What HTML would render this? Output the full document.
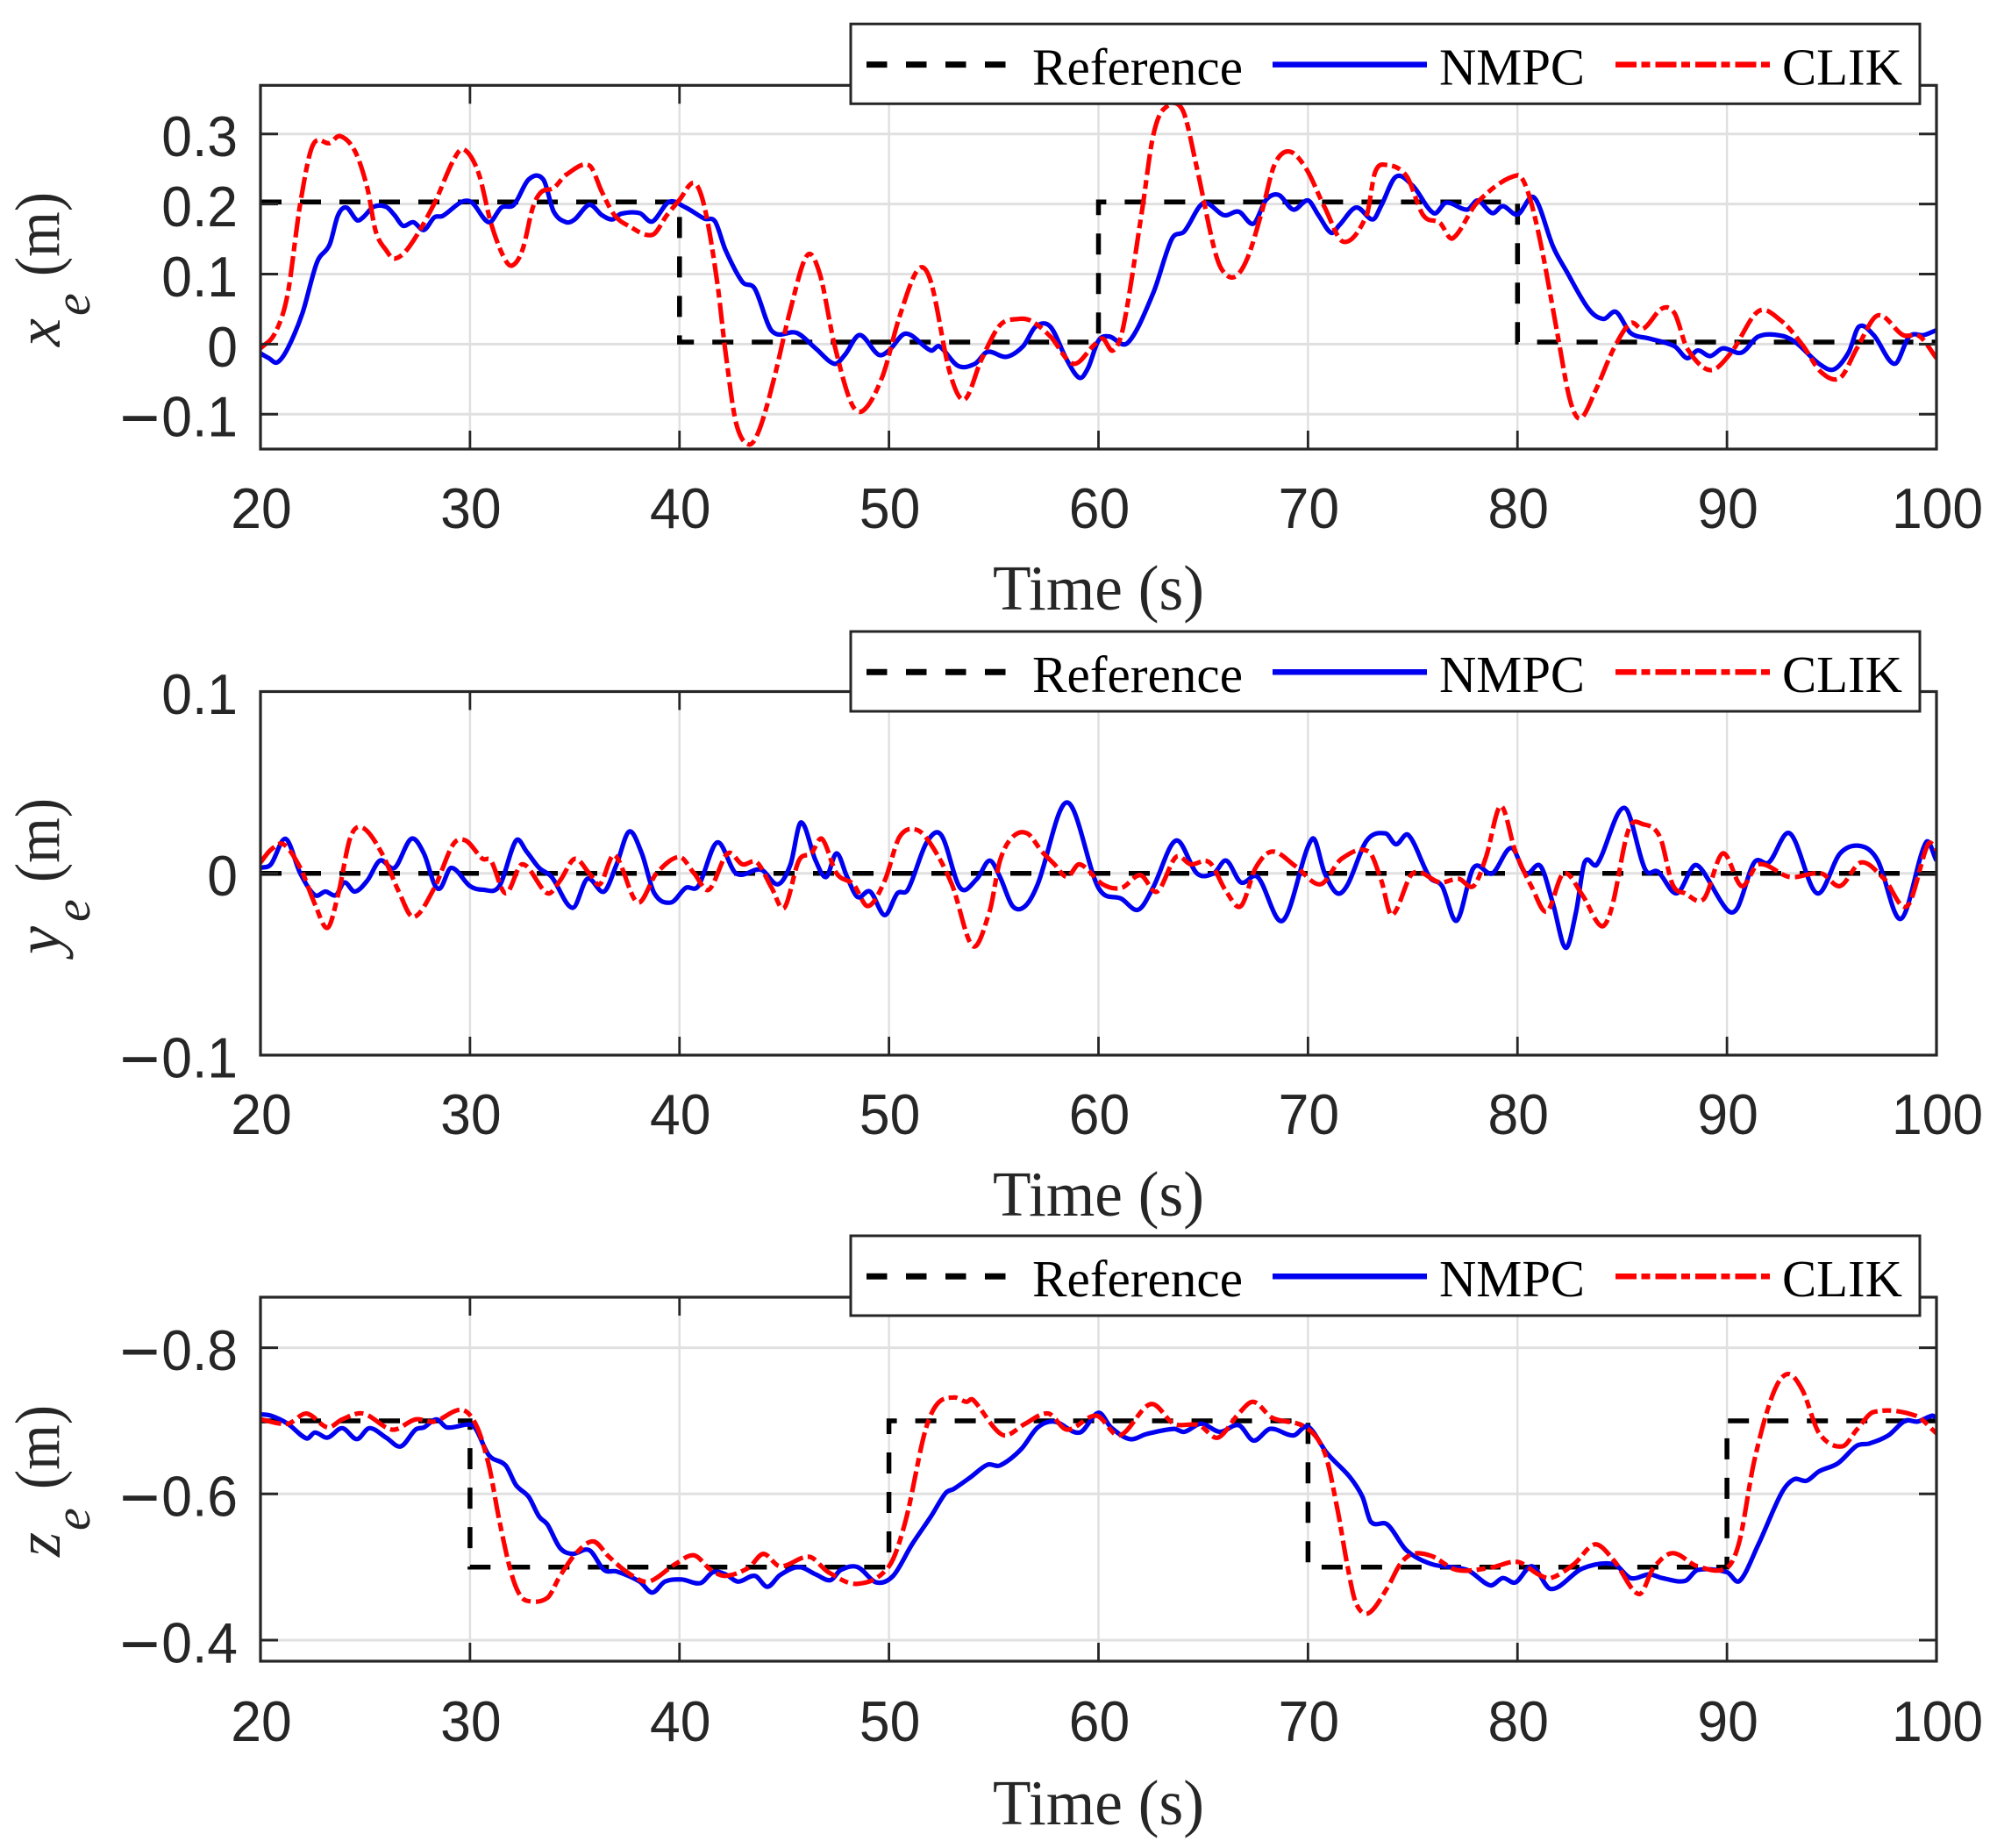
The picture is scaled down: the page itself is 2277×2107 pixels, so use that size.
<!DOCTYPE html>
<html>
<head>
<meta charset="utf-8">
<style>
html,body{margin:0;padding:0;background:#fff;}
svg{display:block;}
.tick{font-family:"Liberation Sans",sans-serif;font-size:65px;fill:#262626;}
.serif{font-family:"Liberation Serif",serif;fill:#262626;}
.leg{font-family:"Liberation Serif",serif;font-size:59px;fill:#000;}
</style>
</head>
<body>
<svg id="chart" xmlns="http://www.w3.org/2000/svg" width="2277" height="2107" viewBox="0 0 2277 2107">
<rect x="0" y="0" width="2277" height="2107" fill="#fff"/>
<g id="panel-x"></g>
<g id="panel-y"></g>
<g id="panel-z"></g>

<g>
<text class="serif" transform="translate(68,395) rotate(-90)" font-size="72" font-style="italic">x</text>
<text class="serif" transform="translate(102,360) rotate(-90)" font-size="58" font-style="italic">e</text>
<text class="serif" transform="translate(67,315) rotate(-90)" font-size="72" textLength="96" lengthAdjust="spacingAndGlyphs">(m)</text>
</g>
<g>
<text class="serif" transform="translate(68,1088) rotate(-90)" font-size="72" font-style="italic">y</text>
<text class="serif" transform="translate(102,1051) rotate(-90)" font-size="58" font-style="italic">e</text>
<text class="serif" transform="translate(67,1006) rotate(-90)" font-size="72" textLength="96" lengthAdjust="spacingAndGlyphs">(m)</text>
</g>
<g>
<text class="serif" transform="translate(68,1775) rotate(-90)" font-size="72" font-style="italic">z</text>
<text class="serif" transform="translate(102,1745) rotate(-90)" font-size="58" font-style="italic">e</text>
<text class="serif" transform="translate(67,1698) rotate(-90)" font-size="72" textLength="96" lengthAdjust="spacingAndGlyphs">(m)</text>
</g>
</svg>
<script>
// ---- shared axis data ----
var xTickValues = [20,30,40,50,60,70,80,90,100];

// ---- x_e panel ----
var xeTickValues = [-0.1,0,0.1,0.2,0.3];
var xeTickLabels = ['\u22120.1','0','0.1','0.2','0.3'];
var xeRefTime = [20,40,40,60,60,80,80,100];
var xeRef = [0.203,0.203,0.003,0.003,0.203,0.203,0.003,0.003];
var xeNmpcTime = [20,20.4,20.8,21.3,22,22.7,23.3,23.7,24.1,24.6,24.9,25.4,26,26.4,26.8,27.3,27.8,28.3,28.7,29.6,30.1,30.9,31.5,32.1,32.8,33.5,34,34.6,35,35.7,36.3,36.8,37.2,38.1,38.7,39.5,40.3,41.2,41.7,42.2,43,43.6,44.4,45.6,46.5,47.4,47.9,48.6,49.5,50,50.8,52,52.4,53.3,54.1,54.7,55.6,56.4,57,57.7,58.5,59.1,59.5,60,60.5,61.4,62.6,63.5,64.1,65,66,66.7,67.4,68,68.6,69.3,70,70.5,71.1,71.5,72.3,73.1,73.5,74.2,75,76,76.6,77.6,78.1,78.8,79.3,80,80.8,81.7,82.3,83.4,84.1,84.7,85.4,86.3,87.5,88.1,88.6,89.2,89.8,90.7,91.5,92.6,93.3,94.4,95.1,95.8,96.3,97,98,98.7,99.4,100];
var xeNmpc = [-.013,-.020,-.026,-.006,.044,.117,.142,.184,.195,.177,.181,.196,.196,.184,.169,.174,.163,.181,.183,.203,.202,.174,.195,.199,.235,.235,.189,.174,.178,.199,.184,.178,.186,.187,.175,.203,.195,.179,.175,.134,.089,.079,.019,.016,-.006,-.028,-.015,.013,-.015,-.009,.015,-.009,-.003,-.031,-.028,-.011,-.018,-.003,.025,.025,-.023,-.048,-.034,.005,.011,.002,.072,.150,.161,.201,.184,.189,.172,.206,.213,.192,.205,.184,.159,.170,.195,.178,.198,.239,.226,.187,.202,.192,.205,.187,.197,.185,.209,.139,.106,.050,.036,.046,.016,.008,-.003,-.020,-.009,-.017,-.006,-.012,.011,.012,.002,-.028,-.036,-.012,.025,.013,-.028,.011,.013,.020];
var xeClikTime = [20,20.7,21.3,21.9,22.5,23.3,23.8,24.5,25.1,25.5,26,26.4,27.1,28.3,29.2,29.7,30.4,31,31.6,32,32.5,33,33.4,34,34.6,35.7,36.3,36.9,37.5,38.7,39.4,40,40.7,41.2,41.8,42.2,42.7,43.3,43.8,44.5,45.3,46.1,46.7,47.4,48.2,48.8,49.7,50.5,51.4,52,52.9,53.6,54.4,55.3,56.2,56.8,57.7,58.8,59.8,60.2,60.7,61.2,62.1,62.6,63.1,64,64.7,65.5,65.9,66.5,67.1,67.8,68.4,69.1,69.9,70.8,71.7,72.8,73.2,73.7,74.7,75.5,76.3,76.9,78.1,80,80.5,81.1,81.9,82.5,83,83.7,84.6,85.4,86,86.9,87.5,88.1,89.2,90.2,91.5,92.6,93.6,94.5,95.4,96.2,97.2,98.4,99.2,100];
var xeClik = [-.006,.016,.072,.201,.284,.287,.297,.276,.223,.161,.134,.122,.139,.201,.262,.278,.245,.173,.125,.112,.134,.195,.217,.223,.242,.255,.217,.184,.170,.156,.184,.206,.230,.195,.089,-.012,-.112,-.143,-.123,-.051,.050,.127,.100,-.001,-.084,-.094,-.045,.039,.107,.089,-.040,-.079,-.023,.027,.036,.033,.011,-.028,-.001,.008,-.009,.027,.195,.296,.335,.335,.251,.139,.106,.096,.122,.189,.256,.275,.251,.195,.146,.184,.245,.256,.240,.184,.173,.151,.203,.241,.217,.145,.016,-.079,-.106,-.068,-.006,.030,.022,.051,.044,-.006,-.037,-.012,.047,.033,-.001,-.040,-.048,-.006,.041,.013,.011,-.020];

// ---- y_e panel ----
var yeTickValues = [-0.1,0,0.1];
var yeTickLabels = ['\u22120.1','0','0.1'];
var yeRefTime = [20,100];
var yeRef = [0,0];
var yeNmpcTime = [20,20.5,21.2,21.9,22.6,23.1,23.6,24,24.5,25.1,25.7,26.4,27.2,27.8,28.3,28.6,29.1,30,30.6,31.4,32.2,32.7,33.3,33.9,34.9,35.6,36.4,37,37.6,38.2,38.8,39.6,40.3,40.9,41.8,42.7,43.9,44.7,45.3,45.8,46.5,47,47.5,48,48.5,49.1,49.8,50.4,50.9,51.8,52.5,53.4,54.2,54.8,55.3,55.9,56.5,57.1,58.5,60,61.1,61.9,62.6,63.7,64.7,65.5,66.1,66.8,67.6,68.8,70.2,70.8,71.4,71.9,72.8,73.7,74.2,74.8,75.8,76.4,77.1,77.9,78.8,79.7,80.4,81.1,81.7,82.3,82.8,83.2,83.8,85.1,86.1,86.7,87.6,88.4,88.8,90,90.5,91.3,92,93,94.3,95.4,96.4,97.2,98.3,99.5,100];
var yeNmpc = [.003,.005,.019,.000,-.012,-.010,-.012,-.005,-.010,-.004,.007,.003,.019,.011,-.006,-.008,.003,-.007,-.009,-.007,.018,.012,.003,-.002,-.019,-.003,-.010,.005,.023,.011,-.011,-.016,-.008,-.007,.017,.000,.002,-.006,.005,.028,.007,-.002,.011,-.002,-.013,-.010,-.023,-.011,-.009,.017,.021,-.008,-.003,.007,-.002,-.018,-.018,-.006,.039,-.008,-.014,-.020,-.008,.018,.000,.000,.007,-.005,-.002,-.026,.019,.000,-.011,-.006,.018,.022,.016,.021,-.002,-.007,-.026,.003,.000,.014,.000,.004,-.017,-.041,-.021,.006,.005,.036,.002,.001,-.011,.004,.002,-.020,-.019,.006,.006,.022,-.011,.011,.015,.007,-.025,.017,.007];
var yeClikTime = [20,20.5,21.1,21.9,22.6,23.2,23.7,24.3,24.9,25.8,26.6,27.3,28.3,29.2,29.8,30.6,31,31.7,32.5,33.7,34.3,35,35.7,36.2,36.9,38,38.9,40,40.7,41.4,42.3,43,43.7,44.4,45,45.7,46.3,46.8,47.5,48.3,49,49.8,50.5,51.3,52,53,54,54.8,55.3,55.9,56.6,57.3,57.9,58.5,59.1,60.2,61.1,62,62.8,63.7,64.4,65.3,66.1,66.8,67.5,68.3,69.4,70.6,71.6,72.9,73.5,74,75,76.3,77.2,77.9,78.5,79.2,79.9,80.7,81.4,82.2,83.1,84,84.5,85.3,86,86.8,87.4,88,88.9,89.8,90.7,91.5,93,94.5,95.4,96.4,97.5,98.6,99.6,100];
var yeClik = [.006,.013,.016,.003,-.017,-.030,-.012,.020,.025,.011,-.010,-.024,-.008,.016,.018,.008,.007,-.011,.005,-.011,-.004,.008,.000,-.006,.010,-.016,.000,.009,.000,-.009,.011,.005,.006,-.008,-.019,.007,.011,.019,.000,-.006,-.018,-.004,.020,.024,.016,-.006,-.040,-.021,.007,.020,.022,.012,.005,-.002,.005,-.006,-.008,-.001,-.010,.009,.005,.006,-.010,-.018,.003,.012,.004,-.006,.008,.012,-.004,-.023,.000,-.005,-.003,-.007,.009,.037,.012,-.008,-.021,.000,-.012,-.029,-.019,.024,.027,.020,-.006,-.011,-.014,.011,-.007,.005,-.002,.000,-.007,.006,-.003,-.018,.016,.013];

// ---- z_e panel ----
var zeTickValues = [-0.8,-0.6,-0.4];
var zeTickLabels = ['\u22120.8','\u22120.6','\u22120.4'];
var zeRefTime = [20,30,30,50,50,70,70,90,90,100];
var zeRef = [-0.7,-0.7,-0.5,-0.5,-0.7,-0.7,-0.5,-0.5,-0.7,-0.7];
var zeNmpcTime = [20,20.5,21.3,22.2,22.6,23.2,23.9,24.6,25.2,26,26.7,27.4,27.8,28.4,28.9,30,30.3,30.9,31.7,32.2,32.8,33.3,33.7,34.3,34.9,35.7,36.4,37,38.1,38.7,39.3,40.1,41,41.6,42.2,42.8,43.6,44.2,44.8,45.7,46.5,47.2,47.7,48.5,49.4,50.2,51.1,52,52.7,53.1,53.9,54.7,55.3,56.3,57.1,57.9,59.1,60,60.6,61.5,62.3,63.6,64.1,64.9,65.8,66.7,67.4,68.2,69.3,70,70.9,72,72.6,73,73.8,74.7,75.9,77.6,78.7,79.3,79.9,80.7,81.6,83.1,84.6,85.4,86.3,86.9,88,88.6,90,90.6,91.5,92.6,93.2,93.8,94.4,95.3,96.2,96.8,97.7,98.5,99.1,99.8,100];
var zeNmpc = [-.709,-.707,-.696,-.676,-.684,-.677,-.690,-.675,-.690,-.677,-.665,-.688,-.691,-.702,-.691,-.695,-.688,-.653,-.639,-.612,-.596,-.569,-.558,-.526,-.518,-.523,-.496,-.494,-.480,-.465,-.480,-.483,-.478,-.493,-.490,-.480,-.488,-.473,-.489,-.500,-.490,-.482,-.496,-.500,-.479,-.488,-.531,-.569,-.601,-.607,-.623,-.640,-.639,-.661,-.691,-.699,-.684,-.711,-.691,-.675,-.682,-.689,-.685,-.696,-.685,-.694,-.673,-.689,-.680,-.692,-.656,-.623,-.596,-.562,-.558,-.523,-.504,-.496,-.475,-.485,-.479,-.501,-.470,-.498,-.504,-.485,-.490,-.485,-.481,-.496,-.493,-.481,-.531,-.601,-.620,-.618,-.631,-.642,-.666,-.669,-.680,-.700,-.699,-.707,-.704];
var zeClikTime = [20,21.3,22.2,23.2,23.9,24.9,26.3,27.4,28.3,29.6,30.3,30.9,31.4,31.9,32.3,32.7,33.7,34.3,35.1,35.9,36.6,37.5,38.5,39.8,40.7,41.5,42.2,43.3,44,44.8,46.2,47.1,48.5,50,50.8,51.7,52.3,53.1,53.7,54,55.1,55.6,56.5,57.6,58.5,59.9,61,62.5,63.6,64.8,65.7,66.7,67.4,68.3,69.9,70.8,71.4,71.9,72.3,72.9,73.8,74.4,75,75.9,77.1,78.7,80,81,81.6,82.7,83.7,84.6,85.8,86.5,87.4,88.6,90,90.6,91.3,92.2,92.9,93.6,94.4,95.5,96.2,97,99,100];
var zeClik = [-.702,-.696,-.710,-.691,-.702,-.710,-.688,-.702,-.699,-.715,-.694,-.639,-.564,-.499,-.466,-.454,-.458,-.488,-.520,-.535,-.515,-.493,-.480,-.504,-.516,-.496,-.488,-.499,-.518,-.501,-.514,-.493,-.477,-.501,-.564,-.683,-.723,-.732,-.726,-.729,-.688,-.680,-.696,-.710,-.688,-.707,-.680,-.723,-.696,-.694,-.677,-.710,-.726,-.704,-.691,-.656,-.580,-.499,-.450,-.437,-.472,-.504,-.518,-.515,-.496,-.499,-.507,-.490,-.485,-.504,-.531,-.509,-.463,-.499,-.519,-.501,-.499,-.536,-.645,-.737,-.764,-.742,-.683,-.665,-.688,-.712,-.707,-.683];

var legendLabels = ['Reference','NMPC','CLIK'];
var xLabelText = 'Time (s)';

// ---- layout ----
var SVGNS = 'http://www.w3.org/2000/svg';
var L = 297, R = 2208;
var TICK_SQUEEZE = 0.96;
function tx(t){ return L + (t - 20) * (R - L) / 80; }
function node(parent, tag, attrs, text){
  var el = document.createElementNS(SVGNS, tag);
  for (var k in attrs) el.setAttribute(k, attrs[k]);
  if (text !== undefined) el.textContent = text;
  parent.appendChild(el);
  return el;
}
function smoothPath(ts, vs, X, Y){
  var n = Math.min(ts.length, vs.length), d = 'M' + X(ts[0]).toFixed(1) + ' ' + Y(vs[0]).toFixed(1);
  for (var i = 0; i < n - 1; i++){
    var p0 = i > 0 ? i - 1 : i, p3 = i + 2 < n ? i + 2 : i + 1;
    var h = ts[i+1] - ts[i];
    var m1 = (vs[i+1] - vs[p0]) / (ts[i+1] - ts[p0]);
    var m2 = (vs[p3] - vs[i]) / (ts[p3] - ts[i]);
    var c1t = ts[i] + h / 3, c1v = vs[i] + m1 * h / 3;
    var c2t = ts[i+1] - h / 3, c2v = vs[i+1] - m2 * h / 3;
    d += 'C' + X(c1t).toFixed(1) + ' ' + Y(c1v).toFixed(1) + ' ' + X(c2t).toFixed(1) + ' ' + Y(c2v).toFixed(1) + ' ' + X(ts[i+1]).toFixed(1) + ' ' + Y(vs[i+1]).toFixed(1);
  }
  return d;
}
function stepPath(ts, vs, X, Y){
  var d = '';
  for (var i = 0; i < ts.length; i++) d += (i ? 'L' : 'M') + X(ts[i]).toFixed(1) + ' ' + Y(vs[i]).toFixed(1);
  return d;
}

function drawPanel(g, id, o){
  var Y = function(v){ return o.y0 + (v - o.v0) * (o.y1 - o.y0) / (o.v1 - o.v0); };
  var clipId = 'clip-' + id;
  var defs = node(g, 'defs', {});
  var cp = node(defs, 'clipPath', {id: clipId});
  node(cp, 'rect', {x: L, y: o.top, width: R - L, height: o.bottom - o.top});

  // grid
  xTickValues.forEach(function(t){
    if (t === 20 || t === 100) return;
    var el = node(g, 'line', {x1: tx(t), x2: tx(t), y1: o.top, y2: o.bottom, stroke: '#e0e0e0', 'stroke-width': 2.5});
    
    
  });
  o.ticks.forEach(function(v){
    if (Y(v) <= o.top + 2 || Y(v) >= o.bottom - 2) return;
    var el = node(g, 'line', {x1: L, x2: R, y1: Y(v), y2: Y(v), stroke: '#e0e0e0', 'stroke-width': 3});
    
    
  });

  // series
  var ref = node(g, 'path', {d: stepPath(o.refT, o.ref, tx, Y), fill: 'none', stroke: '#000', 'stroke-width': 5.5, 'stroke-dasharray': '24 21', 'clip-path': 'url(#' + clipId + ')'});
  
  
  var nm = node(g, 'path', {d: smoothPath(o.nT, o.n, tx, Y), fill: 'none', stroke: '#0000f0', 'stroke-width': 5.2, 'stroke-linejoin': 'round', 'clip-path': 'url(#' + clipId + ')'});
  
  
  var cl = node(g, 'path', {d: smoothPath(o.cT, o.c, tx, Y), fill: 'none', stroke: '#ff0000', 'stroke-width': 5.2, 'stroke-dasharray': '24 5.5 10 6', 'clip-path': 'url(#' + clipId + ')'});
  
  

  // frame
  var frame = node(g, 'rect', {x: L, y: o.top, width: R - L, height: o.bottom - o.top, fill: 'none', stroke: '#262626', 'stroke-width': 3.2});
  
  

  // ticks + labels
  xTickValues.forEach(function(t){
    if (t !== 20 && t !== 100){
      var a = node(g, 'line', {x1: tx(t), x2: tx(t), y1: o.bottom, y2: o.bottom - 21, stroke: '#262626', 'stroke-width': 2.8});
      
      
      var b = node(g, 'line', {x1: tx(t), x2: tx(t), y1: o.top, y2: o.top + 21, stroke: '#262626', 'stroke-width': 2.8});
      
      
    }
    var lab = node(g, 'text', {class: 'tick', transform: 'translate(' + (tx(t) + 1) + ',' + o.xLabY + ') scale(' + TICK_SQUEEZE + ',1)', 'text-anchor': 'middle'}, String(t));
    
    
  });
  o.ticks.forEach(function(v, i){
    if (Y(v) > o.top + 2 && Y(v) < o.bottom - 2){
      var a = node(g, 'line', {x1: L, x2: L + 20, y1: Y(v), y2: Y(v), stroke: '#262626', 'stroke-width': 3});
      
      
      var b = node(g, 'line', {x1: R, x2: R - 20, y1: Y(v), y2: Y(v), stroke: '#262626', 'stroke-width': 3});
      
      
    }
    var lab = node(g, 'text', {class: 'tick', transform: 'translate(271,' + (Y(v) + 25.4) + ') scale(' + TICK_SQUEEZE + ',1)', 'text-anchor': 'end'});
    
    
    var txt = o.labels[i];
    if (txt.charAt(0) === '\u2212'){
      node(lab, 'tspan', {'font-size': 82, dy: 7}, txt.charAt(0));
      node(lab, 'tspan', {dx: 2, dy: -7}, txt.slice(1));
    } else {
      lab.textContent = txt;
    }
  });

  // x title
  var xt = node(g, 'text', {class: 'serif', x: 1132, y: o.xTitleY, 'font-size': 73, textLength: 241, lengthAdjust: 'spacingAndGlyphs'}, xLabelText);
  
  

  // legend
  var lg = node(g, 'g', {});
  
  
  var box = node(lg, 'rect', {x: 970, y: o.legTop, width: 1219, height: 91, fill: '#fff', stroke: '#262626', 'stroke-width': 3});
  
  
  var ly = o.legTop + 46.3, by = o.legTop + 69;
  var s1 = node(lg, 'line', {x1: 988, x2: 1147, y1: ly, y2: ly, stroke: '#000', 'stroke-width': 7, 'stroke-dasharray': '23.5 21.5'});
  
  
  var t1 = node(lg, 'text', {class: 'leg', x: 1177, y: by, textLength: 240, lengthAdjust: 'spacingAndGlyphs'}, legendLabels[0]);
  
  
  var s2 = node(lg, 'line', {x1: 1451, x2: 1627, y1: ly, y2: ly, stroke: '#0000f0', 'stroke-width': 6.5});
  
  
  var t2 = node(lg, 'text', {class: 'leg', x: 1641, y: by, textLength: 166, lengthAdjust: 'spacingAndGlyphs'}, legendLabels[1]);
  
  
  var s3 = node(lg, 'line', {x1: 1842, x2: 2018, y1: ly, y2: ly, stroke: '#ff0000', 'stroke-width': 6.5, 'stroke-dasharray': '24 5.5 10 6'});
  
  
  var t3 = node(lg, 'text', {class: 'leg', x: 2032, y: by, textLength: 137, lengthAdjust: 'spacingAndGlyphs'}, legendLabels[2]);
  
  
}

drawPanel(document.getElementById('panel-x'), 'x', {
  top: 97.3, bottom: 512, v0: 0, y0: 392.4, v1: 0.3, y1: 152.7,
  ticks: xeTickValues, labels: xeTickLabels,
  refT: xeRefTime, ref: xeRef, nT: xeNmpcTime, n: xeNmpc, cT: xeClikTime, c: xeClik,
  xLabY: 602, xTitleY: 695, legTop: 27.3
});
drawPanel(document.getElementById('panel-y'), 'y', {
  top: 788.5, bottom: 1203, v0: 0.1, y0: 788.5, v1: -0.1, y1: 1203,
  ticks: yeTickValues, labels: yeTickLabels,
  refT: yeRefTime, ref: yeRef, nT: yeNmpcTime, n: yeNmpc, cT: yeClikTime, c: yeClik,
  xLabY: 1293, xTitleY: 1386, legTop: 720
});
drawPanel(document.getElementById('panel-z'), 'z', {
  top: 1479, bottom: 1894, v0: -0.8, y0: 1536.6, v1: -0.4, y1: 1870,
  ticks: zeTickValues, labels: zeTickLabels,
  refT: zeRefTime, ref: zeRef, nT: zeNmpcTime, n: zeNmpc, cT: zeClikTime, c: zeClik,
  xLabY: 1985, xTitleY: 2080, legTop: 1409
});
</script>
</body>
</html>
